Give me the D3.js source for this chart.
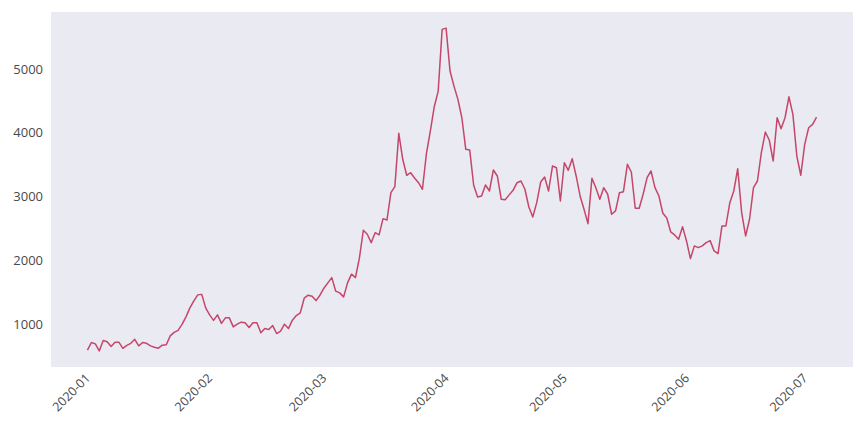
<!DOCTYPE html>
<html>
<head>
<meta charset="utf-8">
<script src="https://cdn.jsdelivr.net/npm/d3@7"></script>
<style>
  html, body { margin: 0; padding: 0; background: #ffffff; }
  svg { display: block; }
  .tick text { font-family: "Open Sans", "DejaVu Sans", sans-serif; }
</style>
</head>
<body>
<svg id="chart" width="864" height="432"></svg>
<script>
// ---- data ----
const startDate = "2020-01-01";
const values = [
  587, 707, 686, 576, 738, 718, 644, 713, 710, 616,
  663, 694, 757, 655, 707, 694, 655, 632, 618, 666,
  671, 812, 867, 898, 992, 1110, 1251, 1361, 1455, 1463,
  1251, 1141, 1055, 1141, 1008, 1094, 1094, 953, 995, 1027,
  1016, 942, 1016, 1016, 859, 926, 911, 973, 848, 886,
  995, 926, 1058, 1130, 1173, 1403, 1450, 1435, 1365, 1450,
  1560, 1643, 1726, 1513, 1486, 1424, 1643, 1780, 1726, 2031,
  2470, 2407, 2275, 2432, 2396, 2652, 2631, 3060, 3154, 3991,
  3584, 3333, 3373, 3290, 3216, 3113, 3667, 4027, 4409, 4655,
  5623, 5643, 4969, 4733, 4525, 4236, 3740, 3729, 3176, 2992,
  3008, 3180, 3086, 3416, 3322, 2956, 2950, 3025, 3097, 3216,
  3243, 3113, 2835, 2678, 2903, 3227, 3306, 3086, 3478, 3452,
  2929, 3530, 3411, 3593, 3322, 3008, 2799, 2573, 3285, 3138,
  2956, 3138, 3035, 2721, 2773, 3060, 3075, 3505, 3384, 2815,
  2815, 3035, 3295, 3400, 3138, 3008, 2736, 2663, 2443, 2396,
  2329, 2526, 2302, 2024, 2224, 2197, 2224, 2275, 2307, 2145,
  2103, 2537, 2537, 2903, 3086, 3436, 2746, 2380, 2642, 3138,
  3243, 3687, 4012, 3886, 3557, 4236, 4063, 4236, 4565, 4289,
  3635, 3333, 3819, 4079, 4133, 4247
];
const yTickValues = [1000, 2000, 3000, 4000, 5000];

// ---- layout ----
const W = 864, H = 432;
const plot = { left: 51, top: 12, right: 853, bottom: 367 };
const lineColor = "#C6466A";
const bgColor = "#EAEAF2";
const textColor = "#4a4a4a";

const parse = d3.timeParse("%Y-%m-%d");
const t0 = parse(startDate);
const data = values.map((v, i) => ({ date: d3.timeDay.offset(t0, i), value: v }));

const svg = d3.select("#chart");

// x domain with 5% margins (matplotlib style)
const xExt = d3.extent(data, d => d.date);
const span = xExt[1] - xExt[0];
const x = d3.scaleTime()
  .domain([new Date(+xExt[0] - span * 0.05), new Date(+xExt[1] + span * 0.05)])
  .range([plot.left, plot.right]);

const yExt = d3.extent(data, d => d.value);
const ySpan = yExt[1] - yExt[0];
const y = d3.scaleLinear()
  .domain([yExt[0] - ySpan * 0.05, yExt[1] + ySpan * 0.05])
  .range([plot.bottom, plot.top]);

// background
svg.append("rect")
  .attr("x", plot.left).attr("y", plot.top)
  .attr("width", plot.right - plot.left)
  .attr("height", plot.bottom - plot.top)
  .attr("fill", bgColor);

// y axis
const yAxis = svg.append("g")
  .attr("transform", `translate(${plot.left},0)`)
  .call(d3.axisLeft(y).tickValues(yTickValues).tickSize(0).tickPadding(8).tickFormat(d3.format("d")));
yAxis.select(".domain").remove();
yAxis.selectAll("text")
  .attr("fill", textColor)
  .style("font-size", "13px");

// x axis
const monthTicks = d3.timeMonth.range(d3.timeMonth.ceil(x.domain()[0]), x.domain()[1]);
const xAxis = svg.append("g")
  .attr("transform", `translate(0,${plot.bottom})`)
  .call(d3.axisBottom(x).tickValues(monthTicks).tickSize(0).tickPadding(0).tickFormat(d3.timeFormat("%Y-%m")));
xAxis.select(".domain").remove();
xAxis.selectAll("text")
  .attr("fill", textColor)
  .style("font-size", "12.5px")
  .attr("text-anchor", "end")
  .attr("dy", null)
  .attr("y", 0)
  .attr("transform", "translate(3,12) rotate(-45)");

// line
const line = d3.line()
  .x(d => x(d.date))
  .y(d => y(d.value));

svg.append("path")
  .datum(data)
  .attr("fill", "none")
  .attr("stroke", lineColor)
  .attr("stroke-width", 1.5)
  .attr("stroke-linejoin", "round")
  .attr("d", line);
</script>
</body>
</html>
